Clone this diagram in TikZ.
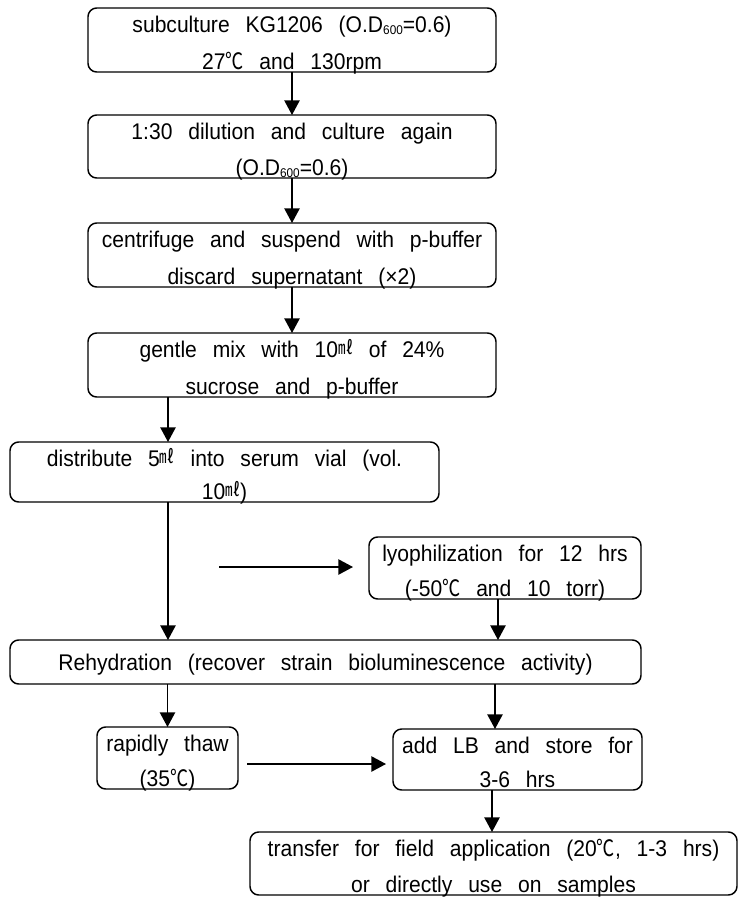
\documentclass[tikz,border=0pt]{standalone}
\usepackage{fontspec}
\setmainfont[WordSpace=2.7, FakeStretch=0.93]{Liberation Sans}
\newfontfamily\cjk[FakeStretch=0.8]{Noto Sans CJK KR}
\usetikzlibrary{arrows.meta}
\newcommand\myml{\raisebox{2pt}{\fontsize{14pt}{14pt}\cjk ㎖}}
\newcommand\mydegc{{\cjk ℃}}
\newcommand\mysub{\raisebox{-1.5pt}{\fontsize{9.5pt}{9.5pt}\selectfont 600}}
\begin{document}
\begin{tikzpicture}[x=0.75pt,y=-0.75pt,
  box/.style={draw, rounded corners=6.5pt, line width=1.1pt, inner sep=0pt, outer sep=0pt},
  lbl/.style={anchor=base, inner sep=0pt, font=\fontsize{17pt}{20pt}\selectfont},
  arr/.style={line width=1.1pt, -{Triangle[length=11pt,width=11.5pt]}}]
\useasboundingbox (0,0) rectangle (739,897);

% boxes
\node[box, minimum width=306pt, minimum height=48pt] (b1) at (292,40) {};
\node[box, minimum width=306pt, minimum height=47.25pt] (b2) at (292,146.5) {};
\node[box, minimum width=306pt, minimum height=48pt] (b3) at (292,255) {};
\node[box, minimum width=306pt, minimum height=48pt] (b4) at (292,365) {};
\node[box, minimum width=321.75pt, minimum height=45pt] (b5) at (224.5,472) {};
\node[box, minimum width=204pt, minimum height=46.5pt] (b6) at (505,568) {};
\node[box, minimum width=473.25pt, minimum height=33pt] (b7) at (325.5,662) {};
\node[box, minimum width=105.75pt, minimum height=46.5pt] (b8) at (167.5,758) {};
\node[box, minimum width=186.75pt, minimum height=45.75pt] (b9) at (517.5,759.5) {};
\node[box, minimum width=365.25pt, minimum height=47.25pt] (b10) at (493.5,863.5) {};

% texts
\node[lbl] (t1a) at (292,32) {subculture KG1206 (O.D\mysub=0.6)};
\node[lbl] (t1b) at (292,69) {27\mydegc{} and 130rpm};
\node[lbl] (t2a) at (292,139) {1:30 dilution and culture again};
\node[lbl] (t2b) at (292,175) {(O.D\mysub=0.6)};
\node[lbl] (t3a) at (292,247) {centrifuge and suspend with p-buffer};
\node[lbl] (t3b) at (292,284) {discard supernatant (×2)};
\node[lbl] (t4a) at (292,357) {gentle mix with 10\myml{} of 24\%};
\node[lbl] (t4b) at (292,394) {sucrose and p-buffer};
\node[lbl] (t5a) at (224.5,466) {distribute 5\myml{} into serum vial (vol.};
\node[lbl] (t5b) at (224.5,499) {10\myml)};
\node[lbl] (t6a) at (505,561) {lyophilization for 12 hrs};
\node[lbl] (t6b) at (505,596) {(-50\mydegc{} and 10 torr)};
\node[lbl] (t7) at (325.5,670) {Rehydration (recover strain bioluminescence activity)};
\node[lbl] (t8a) at (167.5,751) {rapidly thaw};
\node[lbl] (t8b) at (167.5,786) {(35\mydegc)};
\node[lbl] (t9a) at (517.5,753) {add LB and store for};
\node[lbl] (t9b) at (517.5,787) {3-6 hrs};
\node[lbl] (t10a) at (493.5,856) {transfer for field application (20\mydegc, 1-3 hrs)};
\node[lbl] (t10b) at (493.5,892) {or directly use on samples};

% connectors
\coordinate (xA) at (168,0);
\coordinate (xB) at (498,0);
\coordinate (xC) at (495,0);
\coordinate (xD) at (492,0);
\coordinate (hs) at (219,567);
\coordinate (hy) at (0,764);

\draw[arr] (b1.south) -- (b2.north);
\draw[arr] (b2.south) -- (b3.north);
\draw[arr] (b3.south) -- (b4.north);
\draw[arr] (b4.south -| xA) -- (b5.north -| xA);
\draw[arr] (b5.south -| xA) -- (b7.north -| xA);
\draw[arr] (b6.south -| xB) -- (b7.north -| xB);
\draw[arr] (b7.south -| b8.north) -- (b8.north);
\draw[arr] (b7.south -| xC) -- (b9.north -| xC);
\draw[arr] (b9.south -| xD) -- (b10.north -| xD);
\draw[arr, shorten >=12pt] (hs) -- (b6.west |- hs);
\draw[arr, shorten <=6.75pt, shorten >=5.25pt] (b8.east |- hy) -- (b9.west |- hy);
\end{tikzpicture}
\end{document}
